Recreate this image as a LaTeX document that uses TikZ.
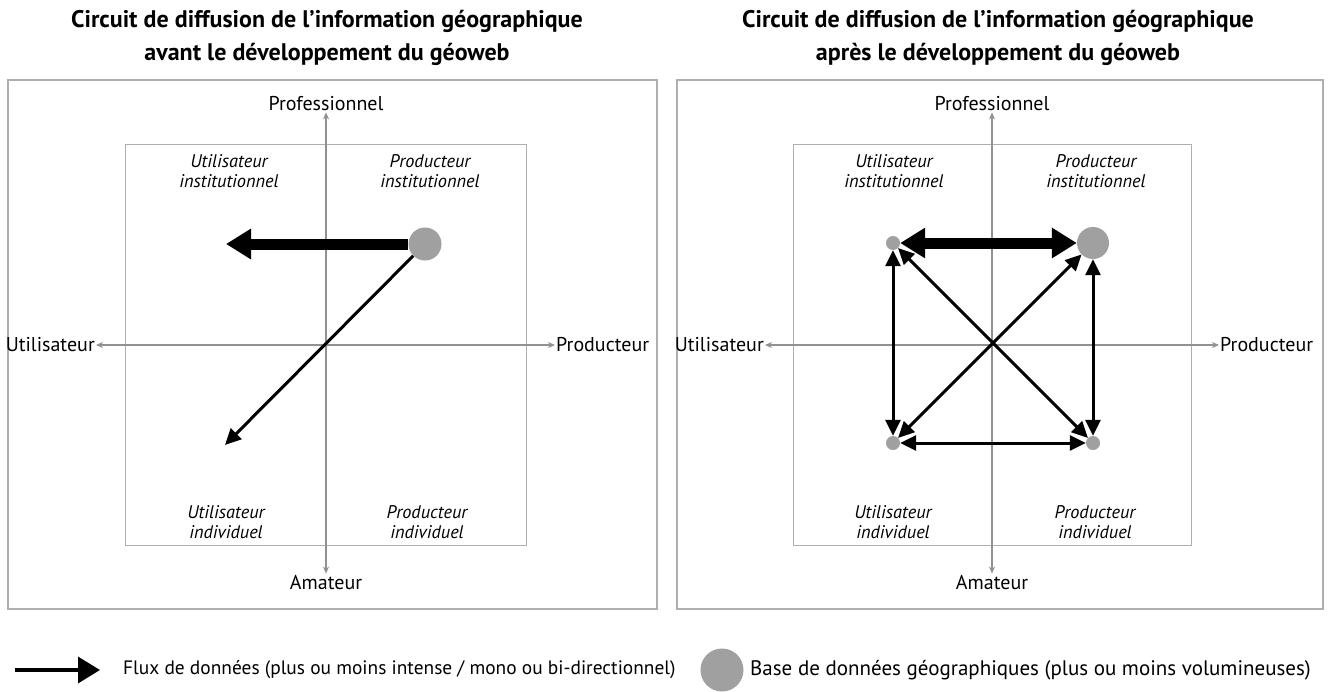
\documentclass[tikz,border=0pt]{standalone}
\usepackage{fontspec}
\setmainfont{PT Sans}
\usetikzlibrary{arrows.meta}

\definecolor{framegray}{RGB}{175,175,175}
\definecolor{axisgray}{RGB}{145,145,145}
\definecolor{dotgray}{RGB}{160,160,160}

\begin{document}
\begin{tikzpicture}[x=1pt,y=-1pt,
        frame/.style={draw=framegray,line width=1.3pt},
        axis/.style={draw=axisgray,line width=1.1pt,{Stealth[length=7pt,width=6pt]}-{Stealth[length=7pt,width=6pt]}},
        axislabel/.style={font=\fontsize{20}{24}\selectfont,inner sep=1pt},
        quadrant/.style={font=\fontsize{18.3}{20}\selectfont\itshape,align=center,inner sep=0pt},
        titre/.style={font=\fontsize{24}{33}\selectfont\bfseries,align=center},
        base/.style={circle,fill=dotgray,inner sep=0pt},
        flux/.style={draw,line width=3pt,-{Triangle[length=16pt,width=15pt]}},
        fluxbi/.style={draw,line width=3pt,{Triangle[length=16pt,width=15pt]}-{Triangle[length=16pt,width=15pt]}},
        bigflux/.style={draw,line width=11pt,-{Triangle[length=25pt,width=29pt]}},
        bigfluxbi/.style={draw,line width=11pt,{Triangle[length=25pt,width=29pt]}-{Triangle[length=25pt,width=29pt]}},
      ]
      \useasboundingbox[fill=white] (0,0) rectangle (1330,691);
%
      % avant le geoweb
      \node[titre] at (327,38) (Ltitle) {Circuit de diffusion de l’information géographique\\avant le développement du géoweb};
      \draw[frame] (8,80) rectangle (657,609);
      \draw[frame,line width=1pt] (125,144) rectangle (526,545);
      \node[axislabel,anchor=east] at (96,345) (Lutil) {Utilisateur};
      \node[axislabel,anchor=west] at (555,345) (Lprod) {Producteur};
      \node[axislabel] at (326,104) (Lpro) {Professionnel};
      \node[axislabel] at (326,582) (Lama) {Amateur};
      \path[axis] (Lutil.east) -- (Lprod.west);
      \path[axis] (Lpro.south) -- (Lama.north);
      \node[quadrant] at (229,171) (Lui) {Utilisateur\\institutionnel};
      \node[quadrant] at (430,171) (Lpi) {Producteur\\institutionnel};
      \node[quadrant] at (226,522) (Luv) {Utilisateur\\individuel};
      \node[quadrant] at (427,522) (Lpv) {Producteur\\individuel};
%
      \node[base,minimum size=33pt] at (425,244) (LA) {};
      \coordinate (LB) at (226,244);
      \coordinate (LC) at (225,445);
      \path[bigflux] (LA.west) -- (LB);
      \path[flux] (LA.south west) -- (LC);
%
      % apres le geoweb
      \node[titre] at (998,38) (Rtitle) {Circuit de diffusion de l’information géographique\\après le développement du géoweb};
      \draw[frame] (677,80) rectangle (1323,609);
      \draw[frame,line width=1pt] (793,144) rectangle (1191,545);
      \node[axislabel,anchor=east] at (765,345) (Rutil) {Utilisateur};
      \node[axislabel,anchor=west] at (1219,345) (Rprod) {Producteur};
      \node[axislabel] at (992,104) (Rpro) {Professionnel};
      \node[axislabel] at (992,582) (Rama) {Amateur};
      \path[axis] (Rutil.east) -- (Rprod.west);
      \path[axis] (Rpro.south) -- (Rama.north);
      \node[quadrant] at (894,171) (Rui) {Utilisateur\\institutionnel};
      \node[quadrant] at (1096,171) (Rpi) {Producteur\\institutionnel};
      \node[quadrant] at (893,522) (Ruv) {Utilisateur\\individuel};
      \node[quadrant] at (1095,522) (Rpv) {Producteur\\individuel};
%
      \node[base,minimum size=32pt] at (1093,243) (RA) {};
      \node[base,minimum size=14pt] at (893,243) (RB) {};
      \node[base,minimum size=14pt] at (893,443) (RC) {};
      \node[base,minimum size=14pt] at (1093,443) (RD) {};
      \path[bigfluxbi] (RB) -- (RA);
      \path[fluxbi] (RB) -- (RC);
      \path[fluxbi] (RA) -- (RD);
      \path[fluxbi] (RC) -- (RD);
      \path[fluxbi] (RB) -- (RD);
      \path[fluxbi] (RA) -- (RC);
%
      % legende
      \coordinate (legA) at (15,670);
      \coordinate (legB) at (100,670);
      \path[draw,line width=3.3pt,-{Triangle[length=22pt,width=26pt]}] (legA) -- (legB);
      \node[axislabel,font=\fontsize{19.4}{24}\selectfont,anchor=west] at (122,670) (legflux) {Flux de données (plus ou moins intense / mono ou bi-directionnel)};
      \node[base,minimum size=43pt] at (722,670) (legbase) {};
      \node[axislabel,font=\fontsize{21}{24}\selectfont,anchor=west] at (749,670) (legbasetxt) {Base de données géographiques (plus ou moins volumineuses)};
    \end{tikzpicture}
\end{document}
